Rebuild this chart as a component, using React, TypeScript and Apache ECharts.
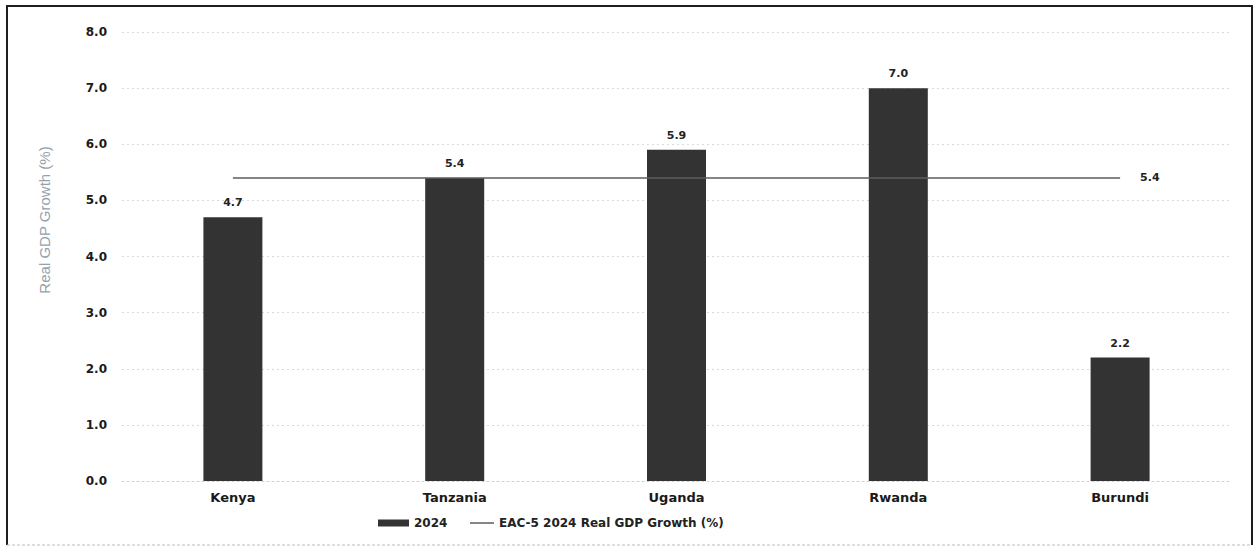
import React, { useEffect, useRef } from "react";
import * as echarts from "echarts";

const countries = ["Kenya", "Tanzania", "Uganda", "Rwanda", "Burundi"];
const growth2024 = [4.7, 5.4, 5.9, 7.0, 2.2];
const eac5Average = [5.4, 5.4, 5.4, 5.4, 5.4];
const barSeriesName = "2024";
const lineSeriesName = "EAC-5 2024 Real GDP Growth (%)";
const yAxisTitle = "Real GDP Growth (%)";

const SANS = "'Liberation Sans', Arial, sans-serif";
const WIDE = "'DejaVu Sans', Verdana, sans-serif";
const BAR_COLOR = "#333333";
const LINE_COLOR = "#5e5e5e";

export default function App() {
  const ref = useRef<HTMLDivElement>(null);

  useEffect(() => {
    if (!ref.current) return;
    const chart = echarts.init(ref.current, null, { renderer: "svg" });
    const legendText = { fontSize: 12, color: "#222", fontFamily: WIDE, fontWeight: "bold" };
    chart.setOption({
      animation: false,
      backgroundColor: "#ffffff",
      textStyle: { fontFamily: WIDE },
      grid: { left: 122, right: 26, top: 32, bottom: 73, containLabel: false },
      legend: [
        {
          left: 378,
          top: 517,
          padding: 0,
          itemWidth: 31,
          itemHeight: 7,
          textStyle: legendText,
          data: [{ name: barSeriesName, icon: "rect" }],
        },
        {
          left: 470,
          top: 517,
          padding: 0,
          itemWidth: 24,
          itemHeight: 1.5,
          textStyle: legendText,
          data: [{ name: lineSeriesName, icon: "rect" }],
        },
      ],
      xAxis: {
        type: "category",
        data: countries,
        axisLine: { show: true, lineStyle: { color: "#cfcfcf", type: [2, 3], width: 1 } },
        axisTick: { show: false },
        axisLabel: {
          fontSize: 13,
          fontWeight: "bold",
          color: "#1a1a1a",
          margin: 10,
          fontFamily: WIDE,
        },
      },
      yAxis: {
        type: "value",
        min: 0,
        max: 8,
        interval: 1,
        axisLine: { show: false },
        axisTick: { show: false },
        splitLine: { show: true, lineStyle: { color: "#dadada", type: [2, 3], width: 1 } },
        axisLabel: {
          fontSize: 12,
          fontWeight: "bold",
          color: "#1a1a1a",
          margin: 15,
          fontFamily: WIDE,
          formatter: (v: number) => v.toFixed(1),
        },
      },
      series: [
        {
          name: barSeriesName,
          type: "bar",
          data: growth2024,
          barWidth: 59,
          itemStyle: { color: BAR_COLOR },
          label: {
            show: true,
            position: "top",
            distance: 9,
            fontSize: 11,
            fontWeight: "bold",
            color: "#222",
            fontFamily: WIDE,
            formatter: (p: any) => Number(p.value).toFixed(1),
          },
          z: 2,
        },
        {
          name: lineSeriesName,
          type: "line",
          data: eac5Average,
          symbol: "none",
          lineStyle: { color: LINE_COLOR, width: 1.5 },
          itemStyle: { color: LINE_COLOR },
          endLabel: {
            show: true,
            distance: 20,
            fontSize: 11,
            fontWeight: "bold",
            color: "#222",
            fontFamily: WIDE,
            formatter: (p: any) => Number(p.value).toFixed(1),
          },
          z: 3,
        },
      ],
      graphic: [
        {
          type: "text",
          x: 44,
          y: 220,
          rotation: Math.PI / 2,
          style: {
            text: yAxisTitle,
            fill: "#95a1ad",
            fontSize: 15,
            fontFamily: SANS,
            align: "center",
            verticalAlign: "middle",
          },
        },
        {
          type: "polyline",
          shape: { points: [[7, 545], [7, 6], [1252, 6], [1252, 545]] },
          style: { stroke: "#1e1e1e", lineWidth: 2, fill: "none" },
          silent: true,
        },
        {
          type: "line",
          shape: { x1: 7, y1: 545, x2: 1252, y2: 545 },
          style: { stroke: "#bdbdbd", lineWidth: 1, lineDash: [3, 2] },
          silent: true,
        },
      ],
    });
    return () => chart.dispose();
  }, []);

  return (
    <div
      ref={ref}
      style={{ position: "fixed", left: 0, top: 0, width: 1257, height: 554, background: "#fff" }}
    />
  );
}
